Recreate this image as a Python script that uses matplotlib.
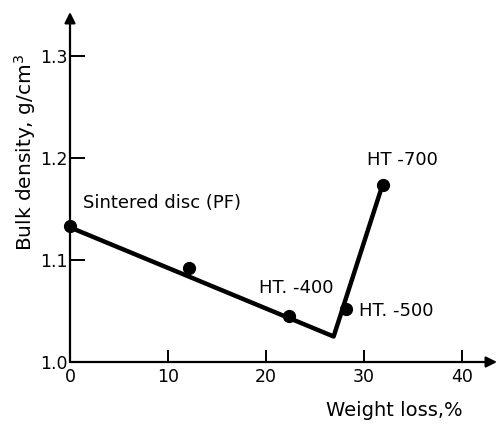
import matplotlib
matplotlib.use("Agg")
import matplotlib.pyplot as plt

# measured points
weight_loss = [0.0, 12.1, 22.3, 28.2, 31.9]
bulk_density = [1.133, 1.092, 1.045, 1.052, 1.174]
# fitted line vertices
line_x = [0.0, 26.9, 31.9]
line_y = [1.132, 1.025, 1.174]

labels = ["Sintered disc (PF)", "HT. -400", "HT. -500", "HT -700"]
label_x = [1.3, 19.3, 29.5, 30.3]
label_y = [1.156, 1.0725, 1.050, 1.198]

xticks = [0, 10, 20, 30, 40]
yticks = [1.0, 1.1, 1.2, 1.3]

plt.rcParams['font.family'] = ['DejaVu Sans']
fig = plt.figure(figsize=(4.99, 4.25), dpi=100)
W, H = 499, 425
x0, y0, x1, y1 = 70, 362, 497, 12
ax = fig.add_axes([x0 / W, (H - y0) / H, (x1 - x0) / W, (y0 - y1) / H])
ax.set_xlim(0, (x1 - x0) / 9.8)
ax.set_ylim(1.0, 1.0 + (y0 - y1) / 1020)

for s in ax.spines.values():
    s.set_visible(False)

ax.annotate("", xy=(1, 0), xytext=(0, 0), xycoords='axes fraction',
            arrowprops=dict(arrowstyle='-|>', color='black', lw=1.6,
                            mutation_scale=16, shrinkA=0, shrinkB=0))
ax.annotate("", xy=(0, 1), xytext=(0, 0), xycoords='axes fraction',
            arrowprops=dict(arrowstyle='-|>', color='black', lw=1.6,
                            mutation_scale=16, shrinkA=0, shrinkB=0))

ax.plot(line_x, line_y, color='black', lw=3.2, solid_capstyle='round',
        solid_joinstyle='round', zorder=3)
ax.plot(weight_loss, bulk_density, 'o', color='black', ms=8.5, zorder=4,
        clip_on=False)

ax.set_xticks(xticks)
ax.set_xticklabels([str(t) for t in xticks])
ax.set_yticks(yticks)
ax.set_yticklabels(["1.0", "1.1", "1.2", "1.3"])
ax.tick_params(axis='x', direction='in', length=9, width=1.4, pad=4,
               labelsize=12.5)
ax.tick_params(axis='y', direction='in', length=11, width=1.4, pad=2,
               labelsize=12.5)

for t, lx, ly in zip(labels, label_x, label_y):
    ax.text(lx, ly, t, fontsize=13, ha='left', va='center')

fig.text(326 / W, 1 - 410 / H, "Weight loss,%", fontsize=14,
         ha='left', va='center')
fig.text(25 / W, 1 - 152 / H, "Bulk density, g/cm$^3$", fontsize=14.5,
         rotation=90, ha='center', va='center')

fig.savefig("out.png", dpi=100)
